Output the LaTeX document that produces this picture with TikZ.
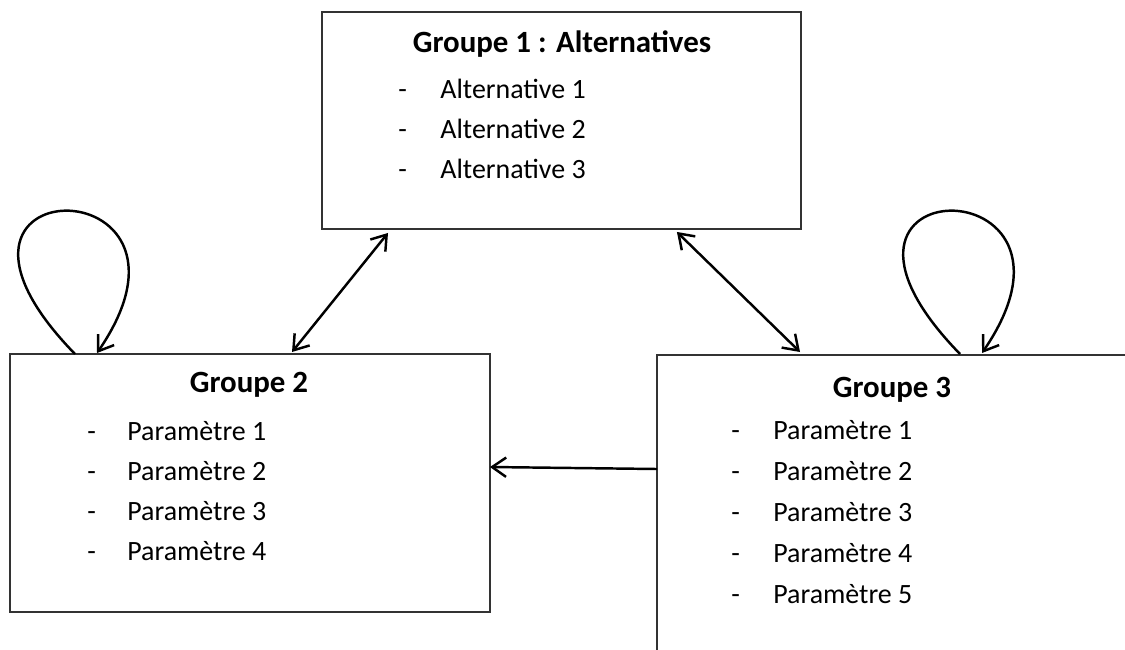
\documentclass[tikz,border=0pt]{standalone}
\usepackage{fontspec}
\setmainfont{Carlito}
\usetikzlibrary{positioning,arrows.meta,calc}
\begin{document}
\begin{tikzpicture}[x=0.02cm,y=-0.02cm,
  font=\fontsize{15.9}{19}\selectfont,
  groupbox/.style={draw=black!80,line width=0.8pt,inner sep=0pt,outer sep=0pt,anchor=north west},
  grouptitle/.style={font=\fontsize{17.6}{21}\selectfont\bfseries,anchor=base,inner sep=0pt},
  itemtext/.style={anchor=base west,inner sep=0pt},
  link/.style={line width=1.4pt,>={Straight Barb[length=8pt,width=11pt]}}]
\useasboundingbox (0,0) rectangle (1125,649);
\clip (0,0) rectangle (1125,649);
\node[groupbox,minimum width=9.58cm,minimum height=4.34cm] (g1) at (322,12) {};
\node[grouptitle] (t1) at (562,52) {Groupe 1 : Alternatives};
\foreach \t[count=\i] in {Alternative 1,Alternative 2,Alternative 3}
\node[itemtext] (d1\i) at (398,{58+40*\i}) {-}
    node[itemtext] (a\i) at (440,{58+40*\i}) {\t};
\node[groupbox,minimum width=9.6cm,minimum height=5.16cm] (g2) at (10,354) {};
\node[grouptitle] (t2) at (249,392) {Groupe 2};
\foreach \t[count=\i] in {Paramètre 1,Paramètre 2,Paramètre 3,Paramètre 4}
\node[itemtext] (d2\i) at (87,{400+40*\i}) {-}
    node[itemtext] (p\i) at (127,{400+40*\i}) {\t};
\node[groupbox,minimum width=9.4cm,minimum height=7cm] (g3) at (657,355) {};
\node[grouptitle] (t3) at (892,397) {Groupe 3};
\foreach \t[count=\i] in {Paramètre 1,Paramètre 2,Paramètre 3,Paramètre 4,Paramètre 5}
\node[itemtext] (d3\i) at (731,{398+41*\i}) {-}
    node[itemtext] (q\i) at (773,{398+41*\i}) {\t};
\draw[link,<->] ($(g1.south west)+(66,4)$) -- ($(g2.north west)+(282,-2)$);
\draw[link,<->] ($(g1.south east)+(-124,3)$) -- ($(g3.north west)+(143,-3)$);
\draw[link,->] ($(g3.north west)+(0,114)$) -- ($(g2.north east)+(0,113)$);
\draw[link,->] ($(g2.north west)+(65,0)$) .. controls +(-185,-190) and +(130,-190) .. ($(g2.north west)+(87,-1)$);
\draw[link,->] ($(g3.north west)+(303,-1)$) .. controls +(-185,-190) and +(130,-190) .. ($(g3.north west)+(325,-2)$);
\end{tikzpicture}
\end{document}
